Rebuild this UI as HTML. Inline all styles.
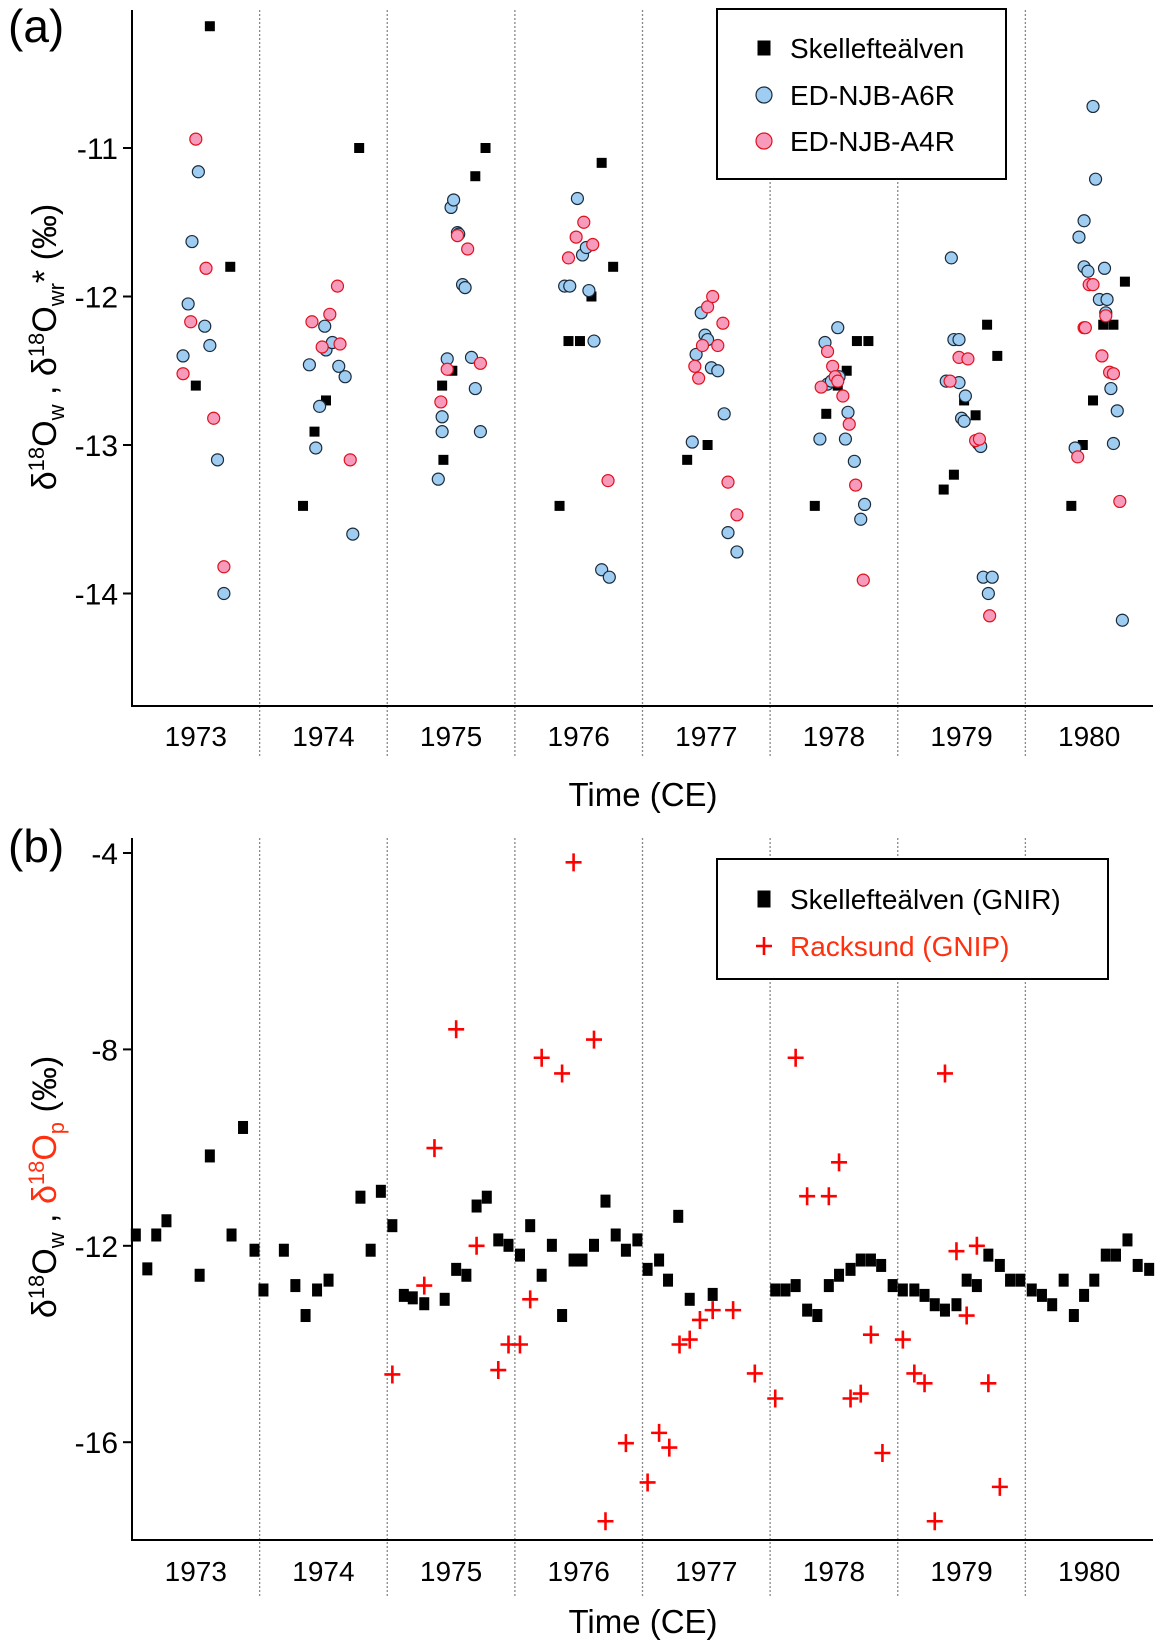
<!DOCTYPE html>
<html><head><meta charset="utf-8"><style>
html,body{margin:0;padding:0;background:#fff;}
svg{display:block;font-family:"Liberation Sans",Arial,sans-serif;}
</style></head><body>
<svg id="chart" width="1160" height="1648" viewBox="0 0 1160 1648" xmlns="http://www.w3.org/2000/svg">
<g id="pa"></g>
<g id="pb"></g>
</svg>
<script>
// ---- shared axis data ----
const years = [1973,1974,1975,1976,1977,1978,1979,1980];
const ticksA = [-11,-12,-13,-14];
const ticksB = [-4,-8,-12,-16];
// ---- panel a data (time in fractional years since 1973, value in permil) ----
const aSkT = [.61,.77,.50, 1.34,1.52,1.43,1.78, 2.43,2.51,2.44,2.69,2.77, 3.35,3.42,3.51,3.60,3.68,3.77, 4.35,4.51, 5.35,5.44,5.53,5.60,5.68,5.77, 6.36,6.44,6.52,6.61,6.70,6.78, 7.36,7.45,7.53,7.61,7.69,7.78];
const aSkV = [-10.18,-11.80,-12.60, -13.41,-12.70,-12.91,-11.0, -12.60,-12.50,-13.10,-11.19,-11.0, -13.41,-12.30,-12.30,-12.0,-11.10,-11.80, -13.10,-13.0, -13.41,-12.79,-12.60,-12.50,-12.30,-12.30, -13.30,-13.20,-12.70,-12.80,-12.19,-12.40, -13.41,-13.0,-12.70,-12.19,-12.19,-11.90];
const aA6T = [.40,.44,.47,.52,.57,.61,.67,.72, 1.39,1.44,1.47,1.51,1.52,1.57,1.62,1.67,1.73, 2.40,2.43,2.43,2.47,2.50,2.52,2.55,2.56,2.59,2.61,2.66,2.69,2.73, 3.39,3.43,3.49,3.53,3.56,3.58,3.62,3.68,3.74, 4.39,4.42,4.46,4.49,4.51,4.54,4.59,4.64,4.67,4.74, 5.39,5.43,5.45,5.48,5.53,5.54,5.59,5.61,5.66,5.71,5.74, 6.38,6.42,6.44,6.48,6.48,6.50,6.52,6.53,6.63,6.65,6.67,6.71,6.74, 7.39,7.42,7.46,7.46,7.49,7.53,7.55,7.58,7.62,7.63,7.64,7.67,7.69,7.72,7.76];
const aA6V = [-12.40,-12.05,-11.63,-11.16,-12.20,-12.33,-13.10,-14.0, -12.46,-13.02,-12.74,-12.20,-12.36,-12.31,-12.47,-12.54,-13.60, -13.23,-12.91,-12.81,-12.42,-11.40,-11.35,-11.57,-11.58,-11.92,-11.94,-12.41,-12.62,-12.91, -11.93,-11.93,-11.34,-11.72,-11.67,-11.96,-12.30,-13.84,-13.89, -12.98,-12.39,-12.11,-12.26,-12.29,-12.48,-12.50,-12.79,-13.59,-13.72, -12.96,-12.31,-12.59,-12.57,-12.21,-12.54,-12.96,-12.78,-13.11,-13.50,-13.40, -12.57,-11.74,-12.29,-12.29,-12.58,-12.82,-12.84,-12.67,-12.99,-13.01,-13.89,-14.0,-13.89, -13.02,-11.60,-11.49,-11.80,-11.83,-10.72,-11.21,-12.02,-11.81,-12.11,-12.02,-12.62,-12.99,-12.77,-14.18];
const aA4T = [.50,.58,.46,.40,.64,.72, 1.41,1.49,1.55,1.61,1.63,1.71, 2.42,2.47,2.55,2.63,2.73, 3.42,3.48,3.54,3.61,3.73, 4.41,4.44,4.47,4.51,4.55,4.59,4.63,4.67,4.74, 5.40,5.45,5.49,5.51,5.53,5.57,5.62,5.67,5.73, 6.41,6.48,6.55,6.61,6.64,6.72, 7.41,7.46,7.47,7.50,7.53,7.60,7.63,7.66,7.69,7.74];
const aA4V = [-10.94,-11.81,-12.17,-12.52,-12.82,-13.82, -12.17,-12.34,-12.12,-11.93,-12.32,-13.10, -12.71,-12.49,-11.59,-11.68,-12.45, -11.74,-11.60,-11.50,-11.65,-13.24, -12.47,-12.55,-12.33,-12.07,-12.0,-12.33,-12.18,-13.25,-13.47, -12.61,-12.37,-12.47,-12.54,-12.57,-12.67,-12.86,-13.27,-13.91, -12.57,-12.41,-12.42,-12.97,-12.96,-14.15, -13.08,-12.21,-12.21,-11.92,-11.92,-12.40,-12.13,-12.51,-12.52,-13.38];
// ---- panel b data ----
const bSkT = [.03,.12,.19,.27,.53,.61,.78,.87,.96, 1.03,1.19,1.28,1.36,1.45,1.54,1.79,1.87,1.95, 2.04,2.13,2.20,2.29,2.45,2.54,2.62,2.70,2.78, 2.87,2.95,3.04,3.12,3.21,3.29,3.37,3.46,3.53,3.62,3.71,3.79,3.87,3.96, 4.04,4.13,4.20,4.28,4.37,4.55, 5.04,5.12,5.20,5.29,5.37,5.46,5.54,5.63,5.71,5.79,5.87, 5.96,6.04,6.13,6.21,6.29,6.37,6.46,6.54,6.62,6.71,6.80, 6.88,6.96,7.05,7.13,7.21,7.30,7.38,7.46,7.54,7.63,7.71,7.80,7.88,7.97];
const bSkV = [-11.78,-12.47,-11.78,-11.49,-12.60,-10.17,-11.78,-9.59,-12.09, -12.90,-12.09,-12.81,-13.42,-12.90,-12.70,-11.01,-12.09,-10.89, -11.59,-13.01,-13.06,-13.18,-13.09,-12.48,-12.60,-11.19,-11.01, -11.88,-11.99,-12.19,-11.59,-12.60,-11.99,-13.42,-12.29,-12.29,-11.99,-11.09,-11.78,-12.09,-11.88, -12.48,-12.29,-12.70,-11.40,-13.09,-12.99, -12.90,-12.90,-12.81,-13.31,-13.42,-12.81,-12.60,-12.48,-12.29,-12.29,-12.40, -12.81,-12.90,-12.90,-13.01,-13.20,-13.31,-13.20,-12.70,-12.81,-12.19,-12.40, -12.70,-12.70,-12.90,-13.01,-13.20,-12.70,-13.42,-13.01,-12.70,-12.19,-12.19,-11.88,-12.40,-12.48];
const bRaT = [2.04,2.29,2.37,2.54,2.70,2.87,2.95,3.04,3.12,3.21,3.37,3.46,3.62,3.71,3.87,4.04,4.13,4.21,4.29,4.37,4.45,4.55,4.71,4.88,5.04,5.20,5.29,5.46,5.54,5.63,5.71,5.79,5.88,6.04,6.13,6.21,6.29,6.37,6.46,6.54,6.62,6.71,6.80];
const bRaV = [-14.62,-12.81,-10.01,-7.59,-12.0,-14.53,-14.01,-14.01,-13.09,-8.17,-8.49,-4.19,-7.80,-17.61,-16.02,-16.82,-15.81,-16.11,-14.01,-13.91,-13.51,-13.31,-13.31,-14.60,-15.11,-8.17,-10.99,-10.99,-10.30,-15.11,-15.01,-13.81,-16.22,-13.91,-14.60,-14.80,-17.61,-8.49,-12.11,-13.42,-12.0,-14.80,-16.91];

const NS='http://www.w3.org/2000/svg';
function mk(parent, tag, attrs, text){
  const e=document.createElementNS(NS,tag);
  for(const k in attrs) e.setAttribute(k,attrs[k]);
  if(text!==undefined) e.textContent=text;
  parent.appendChild(e); return e;
}
const X0=132, X1=1153;
const xs = t => X0 + t*(X1-X0)/8;

function axes(g, yScale, top, bottom, ticks, divBottom, yearY, timeY){
  for(let i=1;i<8;i++){
    const l=mk(g,'line',{x1:xs(i),x2:xs(i),y1:top,y2:divBottom,stroke:'#888','stroke-width':1.3,'stroke-dasharray':'2,2'});
    
    
  }
  const ax=mk(g,'path',{d:`M${X0},${top}V${bottom}H${X1}`,fill:'none',stroke:'#000','stroke-width':2});
  
  
  ticks.forEach(v=>{
    const y=yScale(v);
    const tk=mk(g,'line',{x1:X0-9,x2:X0,y1:y,y2:y,stroke:'#000','stroke-width':2});
    
    
    const tl=mk(g,'text',{x:X0-14,y:y+11,'text-anchor':'end','font-size':30},String(v));
    
    
  });
  years.forEach((yr,i)=>{
    const t=mk(g,'text',{x:xs(i+0.5),y:yearY,'text-anchor':'middle','font-size':28},String(yr));
    
    
  });
  const tt=mk(g,'text',{x:643,y:timeY,'text-anchor':'middle','font-size':33},'Time (CE)');
  
  
}
function square(g,x,y,w,h){
  return mk(g,'rect',{x:x-w/2,y:y-h/2,width:w,height:h,fill:'#000'});
}
function circle(g,x,y,fill,stroke){
  return mk(g,'circle',{cx:x,cy:y,r:6,fill:fill,stroke:stroke,'stroke-width':1.2});
}
function cross(g,x,y){
  return mk(g,'path',{d:`M${x-8},${y}H${x+8}M${x},${y-9}V${y+9}`,stroke:'#f00','stroke-width':2.6,fill:'none'});
}

// ---- Panel A ----
(function(){
  const g=document.getElementById('pa');
  const yA = v => 148 + (-11 - v)*148.5;
  axes(g,yA,10,706,ticksA,757,746,806);
  const lab=mk(g,'text',{x:8,y:42,'font-size':46},'(a)');
  
  
  const yt=mk(g,'text',{transform:'translate(56,347) rotate(-90)','text-anchor':'middle','font-size':34});
  
  
  yt.innerHTML='δ<tspan dy="-12" font-size="22">18</tspan><tspan dy="12">O</tspan><tspan dy="8" font-size="22">w</tspan><tspan dy="-8"> ,  δ</tspan><tspan dy="-12" font-size="22">18</tspan><tspan dy="12">O</tspan><tspan dy="8" font-size="22">wr</tspan><tspan dy="-8">* (‰)</tspan>';
  const sg=mk(g,'g',{});
  
  
  aSkT.forEach((t,i)=>{const m=square(sg,xs(t),yA(aSkV[i]),10,10);
    
    });
  const b6=mk(g,'g',{});
  
  
  aA6T.forEach((t,i)=>{const m=circle(b6,xs(t),yA(aA6V[i]),'#9fcdf2','#1a2a3a');
    
    });
  const b4=mk(g,'g',{});
  
  
  aA4T.forEach((t,i)=>{const m=circle(b4,xs(t),yA(aA4V[i]),'#f79bbc','#e0101c');
    
    });
  const lg=mk(g,'g',{});
  
  
  mk(lg,'rect',{x:717,y:9,width:289,height:170,fill:'#fff',stroke:'#000','stroke-width':2});
  square(lg,764,48,13,15);
  mk(lg,'text',{x:790,y:58,'font-size':28},'Skellefteälven');
  circle(lg,764,95,'#9fcdf2','#1a2a3a').setAttribute('r',8);
  mk(lg,'text',{x:790,y:105,'font-size':28},'ED-NJB-A6R');
  circle(lg,764,141,'#f79bbc','#e0101c').setAttribute('r',8);
  mk(lg,'text',{x:790,y:151,'font-size':28},'ED-NJB-A4R');
})();

// ---- Panel B ----
(function(){
  const g=document.getElementById('pb');
  const yB = v => 853 + (-4 - v)*49.1;
  axes(g,yB,838,1540,ticksB,1597,1581,1633);
  const lab=mk(g,'text',{x:8,y:862,'font-size':46},'(b)');
  
  
  const yt=mk(g,'text',{transform:'translate(56,1187) rotate(-90)','text-anchor':'middle','font-size':34});
  
  
  yt.innerHTML='δ<tspan dy="-12" font-size="22">18</tspan><tspan dy="12">O</tspan><tspan dy="8" font-size="22">w</tspan><tspan dy="-8"> ,  </tspan><tspan fill="#ff3010">δ</tspan><tspan fill="#ff3010" dy="-12" font-size="22">18</tspan><tspan fill="#ff3010" dy="12">O</tspan><tspan fill="#ff3010" dy="8" font-size="22">p</tspan><tspan dy="-8">  (‰)</tspan>';
  const sg=mk(g,'g',{});
  
  
  bSkT.forEach((t,i)=>{const m=square(sg,xs(t),yB(bSkV[i]),10,13);
    
    });
  const rg=mk(g,'g',{});
  
  
  bRaT.forEach((t,i)=>{const m=cross(rg,xs(t),yB(bRaV[i]));
    
    });
  const lg=mk(g,'g',{});
  
  
  mk(lg,'rect',{x:717,y:859,width:391,height:120,fill:'#fff',stroke:'#000','stroke-width':2});
  square(lg,764,899,13,17);
  mk(lg,'text',{x:790,y:909,'font-size':28},'Skellefteälven (GNIR)');
  cross(lg,764,946);
  mk(lg,'text',{x:790,y:956,'font-size':28,fill:'#ff3010'},'Racksund (GNIP)');
})();
</script>
</body></html>
